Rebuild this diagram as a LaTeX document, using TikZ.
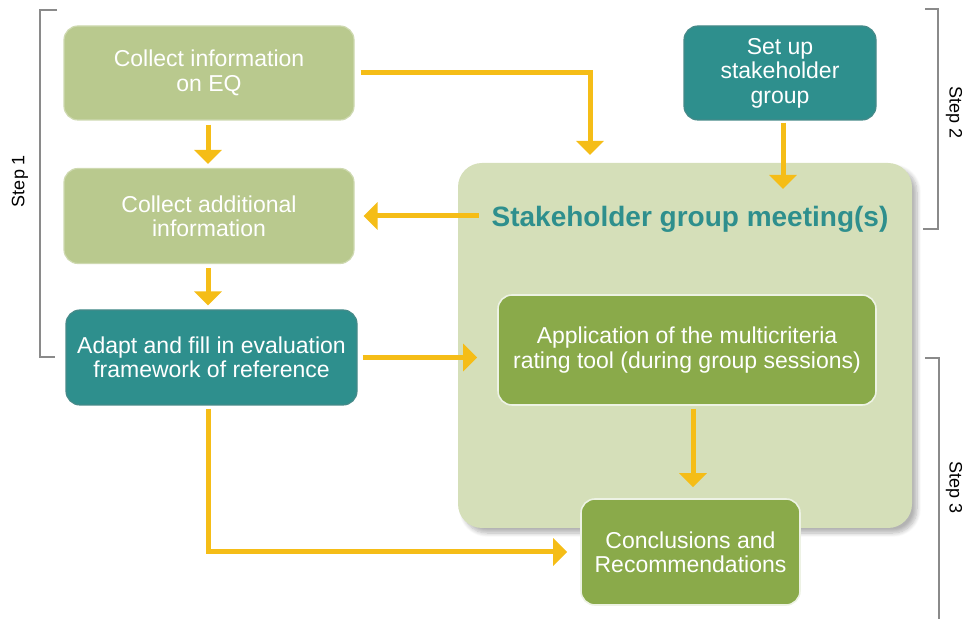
\documentclass[tikz,border=0pt]{standalone}
\usepackage{fontspec}
\setmainfont{Liberation Sans}
\usetikzlibrary{arrows.meta,shadows.blur}

\definecolor{olivelight}{HTML}{B9C98E}
\definecolor{teal}{HTML}{2E8F8D}
\definecolor{sage}{HTML}{D5DFB9}
\definecolor{leaf}{HTML}{8AAA4A}
\definecolor{amber}{HTML}{F5BD17}
\definecolor{bracketgray}{HTML}{8A8A8A}

\tikzset{
    box/.style={rounded corners=7pt, text=white, align=center,
        font=\fontsize{11.5}{12.2}\selectfont, inner sep=2pt},
    infobox/.style={box, fill=olivelight, draw=olivelight!70!white, line width=0.6pt},
    tealbox/.style={box, fill=teal, draw=teal!70!gray, line width=0.6pt},
    greenbox/.style={box, fill=leaf, draw=white!85!leaf, line width=0.8pt},
    region/.style={rounded corners=12pt, fill=sage,
        blur shadow={shadow xshift=2.5pt, shadow yshift=-2.5pt, shadow blur steps=8, shadow opacity=30}},
    flow/.style={amber, line width=2.5pt, -{Triangle[width=13.5pt,length=7pt]}},
    bracket/.style={bracketgray, line width=0.6pt},
    steplabel/.style={font=\fontsize{9}{10}\selectfont}
}

\begin{document}
\begin{tikzpicture}[x=0.5pt,y=-0.5pt]

    \useasboundingbox (0,0) rectangle (964,619);

    % Meeting area
    \node[region, minimum width=227pt, minimum height=182.5pt] (meet) at (685,345.5) {};
    \node[teal, font=\bfseries\fontsize{14}{16}\selectfont] (title) at (690,219) {Stakeholder group meeting(s)};

    % Boxes
    \node[infobox, minimum width=145pt, minimum height=47pt] (info) at (209,73)
        {Collect information\\on EQ};
    \node[infobox, minimum width=145pt, minimum height=47.5pt] (add) at (209,216)
        {Collect additional\\information};
    \node[tealbox, minimum width=145.5pt, minimum height=47.5pt] (adapt) at (211.5,357.5)
        {Adapt and fill in evaluation\\framework of reference};
    \node[tealbox, minimum width=96pt, minimum height=47pt] (setup) at (780,73)
        {Set up\\stakeholder\\group};
    \node[greenbox, minimum width=189pt, minimum height=55pt] (app) at (687,350)
        {Application of the multicriteria\\rating tool (during group sessions)};
    \node[greenbox, minimum width=109.5pt, minimum height=53pt] (conc) at (690.5,552)
        {Conclusions and\\Recommendations};

    % Arrow ends inside the meeting area
    \coordinate (drop) at (590,155);
    \coordinate (meetin) at (783,189);

    % Arrows
    \draw[flow, shorten <=2pt, shorten >=2pt] (info.south -| 208,0) -- (add.north -| 208,0);
    \draw[flow, shorten <=2pt, shorten >=2pt] (add.south -| 208,0) -- (adapt.north -| 208,0);
    \draw[flow, shorten <=3pt] (info) -| (drop);
    \draw[flow, shorten <=1pt] (setup.south -| meetin) -- (meetin);
    \draw[flow, shorten <=3pt, shorten >=4.5pt] (title.west |- add.east) -- (add.east);
    \draw[flow, shorten <=2.5pt, shorten >=10pt] (adapt.east) -- (adapt.east -| app.west);
    \draw[flow, shorten <=1.5pt, shorten >=5.5pt] (app.south -| 693,0) -- (conc.north -| 693,0);
    \draw[flow, shorten <=1.5pt, shorten >=6.5pt] (adapt.south -| 208,0) |- (conc);

    % Step brackets
    \draw[bracket] (57,10) -- (40,10) -- (40,357) -- (55,357);
    \draw[bracket] (925,9) -- (938,9) -- (938,229) -- (923,229);
    \draw[bracket] (925,358) -- (939,358) -- (939,619);

    % Step labels
    \node[steplabel, rotate=90] (s1) at (20,181) {Step 1};
    \node[steplabel, rotate=-90] (s2) at (954,113) {Step 2};
    \node[steplabel, rotate=-90] (s3) at (954,488) {Step 3};

\end{tikzpicture}
\end{document}
